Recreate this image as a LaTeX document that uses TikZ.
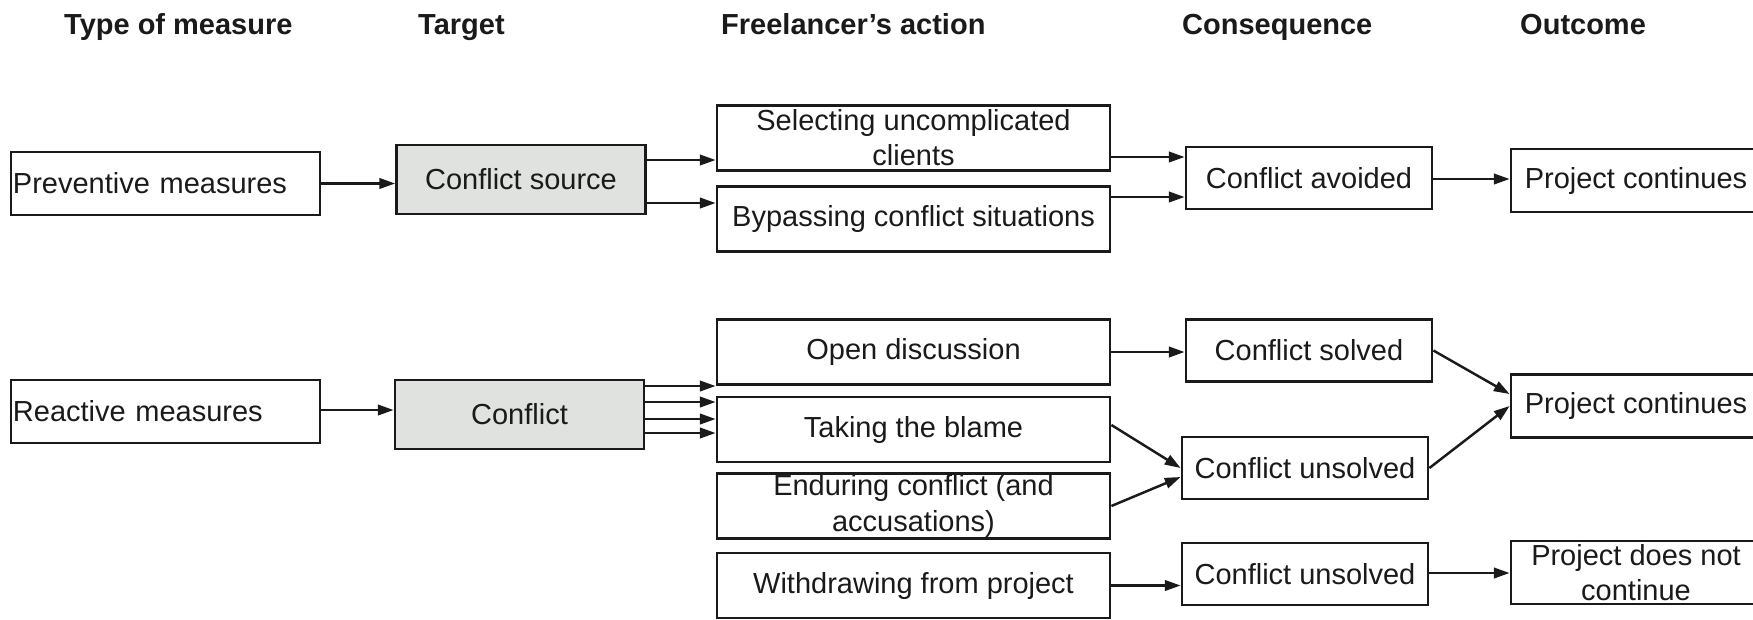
\documentclass[tikz,border=0pt]{standalone}
\usepackage{fontspec}
\setmainfont{Liberation Sans}
\usepackage{tikz}
\usetikzlibrary{arrows.meta,positioning}
\definecolor{targetgray}{RGB}{224,226,223}
\definecolor{inkblack}{RGB}{26,26,26}

\begin{document}
\begin{tikzpicture}[
    x=0.2mm, y=-0.2mm,
    box/.style={rectangle, draw=inkblack, line width=1.6pt, inner sep=0pt, align=center, minimum height=13mm, text=inkblack, font=\fontsize{16.5}{20}\selectfont},
    kindbox/.style={box, text width=61mm, inner xsep=0.4mm, align=left, minimum height=12.6mm},
    targetbox/.style={box, fill=targetgray, minimum width=49.8mm, minimum height=13.8mm},
    actbox/.style={box, minimum width=78.6mm},
    consbox/.style={box, minimum width=49.2mm, minimum height=12.4mm},
    outbox/.style={box, minimum width=50mm, minimum height=12.6mm},
    header/.style={anchor=base west, text=inkblack, font=\fontsize{16.5}{20}\selectfont\bfseries},
    arrow/.style={-{Triangle[length=9pt,width=6pt]}, line width=1.4pt, draw=inkblack}
]
\useasboundingbox (0,0) rectangle (1753,620);
\clip (0,0) rectangle (1753,620);

% Column headers
\node[header] (hkind) at (58,34) {Type of measure};
\node[header] (htarget) at (412,34) {Target};
\node[header] (haction) at (715,34) {Freelancer’s action};
\node[header] (hcons) at (1176,34) {Consequence};
\node[header] (hout) at (1514,34) {Outcome};

% Preventive branch
\node[kindbox] (prev) at (165.5,183.5) {Preventive measures};
\node[targetbox] (src) at (521,179.5) {Conflict source};
\node[actbox] (select) at (913.5,138) {Selecting uncomplicated\\clients};
\node[actbox] (bypass) at (913.5,219) {Bypassing conflict situations};
\node[consbox] (avoided) at (1309,178) {Conflict avoided};
\node[outbox] (goon1) at (1636,180.5) {Project continues};

\draw[arrow] (prev.east) -- (prev.east -| src.west);
\draw[arrow] (src.east |- 0,160) -- (select.west |- 0,160);
\draw[arrow] (src.east |- 0,203) -- (bypass.west |- 0,203);
\draw[arrow] (select.east |- 0,157) -- (avoided.west |- 0,157);
\draw[arrow] (bypass.east |- 0,197) -- (avoided.west |- 0,197);
\draw[arrow] (avoided.east |- 0,179) -- (goon1.west |- 0,179);

% Reactive branch
\node[kindbox] (react) at (165.5,411.5) {Reactive measures};
\node[targetbox] (conf) at (519.5,414.5) {Conflict};
\node[actbox] (open) at (913.5,352) {Open discussion};
\node[actbox] (blame) at (913.5,429.5) {Taking the blame};
\node[actbox] (endure) at (913.5,506) {Enduring conflict (and\\accusations)};
\node[actbox] (withdraw) at (913.5,585.5) {Withdrawing from project};
\node[consbox] (solved) at (1309,350.5) {Conflict solved};
\node[consbox] (unsolved) at (1305,468) {Conflict unsolved};
\node[consbox] (unsolved2) at (1305,574) {Conflict unsolved};
\node[outbox] (goon2) at (1636,406) {Project continues};
\node[outbox] (stop) at (1636,572.5) {Project does not\\continue};

\draw[arrow] (react.east |- 0,410) -- (conf.west |- 0,410);
\foreach \yy in {386,402,419,433}
    \draw[arrow] (conf.east |- 0,\yy) -- (blame.west |- 0,\yy);
\draw[arrow] (open.east) -- (open.east -| solved.west);
\draw[arrow] (blame.east |- 0,425) -- (unsolved.west);
\draw[arrow] (endure.east) -- (unsolved.west |- 0,477);
\draw[arrow] (withdraw.east) -- (withdraw.east -| unsolved2.west);
\draw[arrow] (solved.east) -- (goon2.west |- 0,394);
\draw[arrow] (unsolved.east) -- (goon2.west);
\draw[arrow] (unsolved2.east |- 0,573) -- (stop.west |- 0,573);

\end{tikzpicture}
\end{document}
